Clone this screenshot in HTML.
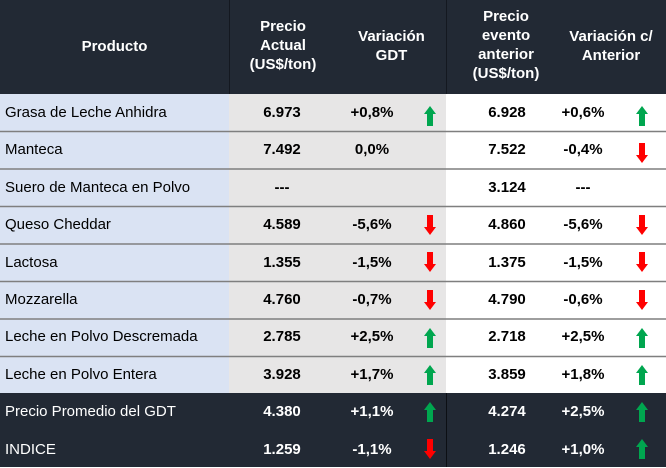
<!DOCTYPE html><html><head><meta charset="utf-8"><style>
body{margin:0;width:666px;height:467px;overflow:hidden;font-family:"Liberation Sans",Calibri,sans-serif;background:#fff;position:relative}
.a{position:absolute}
.hd{background:#222934;left:0;top:0;width:666px;height:94px}
.ht{color:#fff;font-weight:bold;font-size:15px;text-align:center;line-height:19px;position:absolute}
.c{position:absolute;font-size:15px;line-height:37px;height:37px}
.b{font-weight:bold;text-align:center}
.w{color:#fff}
</style></head><body>
<div class="a hd"></div>
<div class="a" style="left:229px;top:0;width:1px;height:94px;background:#141820"></div>
<div class="a" style="left:446px;top:0;width:1px;height:94px;background:#141820"></div>
<div class="ht" style="left:0;width:229px;top:37px">Producto</div>
<div class="ht" style="left:229px;width:108px;top:17px">Precio<br>Actual<br>(US$/ton)</div>
<div class="ht" style="left:337px;width:109px;top:27px">Variación<br>GDT</div>
<div class="ht" style="left:446px;width:120px;top:7px">Precio<br>evento<br>anterior<br>(US$/ton)</div>
<div class="ht" style="left:556px;width:110px;top:27px">Variación c/<br>Anterior</div>
<div class="a" style="left:0;top:94px;width:229px;height:300px;background:#dae3f3"></div>
<div class="a" style="left:229px;top:94px;width:217px;height:300px;background:#e7e6e6"></div>
<div class="a" style="left:0;top:393px;width:666px;height:74px;background:#222934"></div>
<div class="a" style="left:446px;top:393px;width:1px;height:74px;background:#0c0f14"></div>
<svg class="a" style="left:0;top:0" width="666" height="467">
<g stroke="#7f7f7f" stroke-width="1.5">
<line x1="0" y1="131.5" x2="666" y2="131.5"/><line x1="0" y1="169" x2="666" y2="169"/>
<line x1="0" y1="206.5" x2="666" y2="206.5"/><line x1="0" y1="244" x2="666" y2="244"/>
<line x1="0" y1="281.5" x2="666" y2="281.5"/><line x1="0" y1="319" x2="666" y2="319"/>
<line x1="0" y1="356.5" x2="666" y2="356.5"/></g>
<defs>
<path id="up" d="M0,-10 L6,-2 L3,-2 L3,10 L-3,10 L-3,-2 L-6,-2 Z" fill="#00a64f"/>
<path id="dn" d="M0,10 L6,2 L3,2 L3,-10 L-3,-10 L-3,2 L-6,2 Z" fill="#ff0000"/>
</defs>
<use href="#up" x="430" y="116"/><use href="#up" x="642" y="116"/>
<use href="#dn" x="642" y="153"/>
<use href="#dn" x="430" y="225"/><use href="#dn" x="642" y="225"/>
<use href="#dn" x="430" y="262"/><use href="#dn" x="642" y="262"/>
<use href="#dn" x="430" y="300"/><use href="#dn" x="642" y="300"/>
<use href="#up" x="430" y="338"/><use href="#up" x="642" y="338"/>
<use href="#up" x="430" y="375"/><use href="#up" x="642" y="375"/>
<use href="#up" x="430" y="412"/><use href="#up" x="642" y="412"/>
<use href="#dn" x="430" y="449"/><use href="#up" x="642" y="449"/>
</svg>
<div id="rows"></div>
<script>
var d=[["Grasa de Leche Anhidra","6.973","+0,8%","6.928","+0,6%"],["Manteca","7.492","0,0%","7.522","-0,4%"],["Suero de Manteca en Polvo","---","","3.124","---"],["Queso Cheddar","4.589","-5,6%","4.860","-5,6%"],["Lactosa","1.355","-1,5%","1.375","-1,5%"],["Mozzarella","4.760","-0,7%","4.790","-0,6%"],["Leche en Polvo Descremada","2.785","+2,5%","2.718","+2,5%"],["Leche en Polvo Entera","3.928","+1,7%","3.859","+1,8%"],["Precio Promedio del GDT","4.380","+1,1%","4.274","+2,5%"],["INDICE","1.259","-1,1%","1.246","+1,0%"]];
var h="";d.forEach(function(r,i){var t=94+i*37.4,w=i>=8?" w":"";
h+='<div class="c'+w+'" style="left:5px;top:'+t+'px">'+r[0]+'</div>';
h+='<div class="c b'+w+'" style="left:232px;width:100px;top:'+t+'px">'+r[1]+'</div>';
h+='<div class="c b'+w+'" style="left:337px;width:70px;top:'+t+'px">'+r[2]+'</div>';
h+='<div class="c b'+w+'" style="left:457px;width:100px;top:'+t+'px">'+r[3]+'</div>';
h+='<div class="c b'+w+'" style="left:548px;width:70px;top:'+t+'px">'+r[4]+'</div>';});
document.getElementById("rows").innerHTML=h;
</script>
</body></html>
